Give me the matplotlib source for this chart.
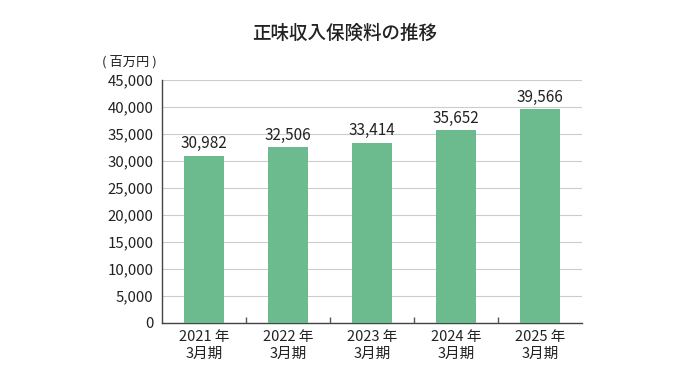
import numpy as np
import matplotlib
matplotlib.use("Agg")
import matplotlib.pyplot as plt

plt.rcParams['font.family'] = ['Noto Sans CJK JP', 'DejaVu Sans']

# data
years = ["2021 年\n3月期", "2022 年\n3月期", "2023 年\n3月期", "2024 年\n3月期", "2025 年\n3月期"]
premiums = [30982, 32506, 33414, 35652, 39566]
yticks = [0, 5000, 10000, 15000, 20000, 25000, 30000, 35000, 40000, 45000]

fig = plt.figure(figsize=(6.9, 3.82), dpi=100)
ax = fig.add_axes([0.2348, 0.1545, 0.6087, 0.6361])

x = np.arange(len(premiums))
ax.bar(x, premiums, width=0.476, color="#6cbb8f", zorder=3)
for xi, v in zip(x, premiums):
    ax.text(xi, v + 700, "{:,}".format(v), ha="center", va="bottom",
            fontsize=11, color="#222222", zorder=4)

ax.set_xlim(-0.5, len(premiums) - 0.5)
ax.set_ylim(0, 45000)
ax.set_yticks(yticks)
ax.set_yticklabels(["{:,}".format(t) for t in yticks], fontsize=10.8, color="#222222")
ax.tick_params(axis="y", length=0, pad=6)
ax.grid(axis="y", color="#cccccc", linewidth=0.8, zorder=0)

# category labels and boundary ticks
ax.set_xticks(x)
ax.set_xticklabels(years, fontsize=10.5, color="#222222", linespacing=1.3)
ax.tick_params(axis="x", which="major", length=0, pad=5)
ax.set_xticks(np.arange(0.5, len(premiums) - 0.5), minor=True)
ax.tick_params(axis="x", which="minor", direction="in", length=4,
               color="#555555", width=1)

for s in ["top", "right"]:
    ax.spines[s].set_visible(False)
for s in ["left", "bottom"]:
    ax.spines[s].set_color("#444444")
    ax.spines[s].set_linewidth(1)

fig.text(0.5, 0.913, "正味収入保険料の推移", ha="center", va="center",
         fontsize=13.3, fontweight="medium", color="#222222")
fig.text(0.148, 0.838, "( 百万円 )", ha="left", va="center",
         fontsize=9.5, color="#222222")

fig.savefig("out.png", dpi=100)
